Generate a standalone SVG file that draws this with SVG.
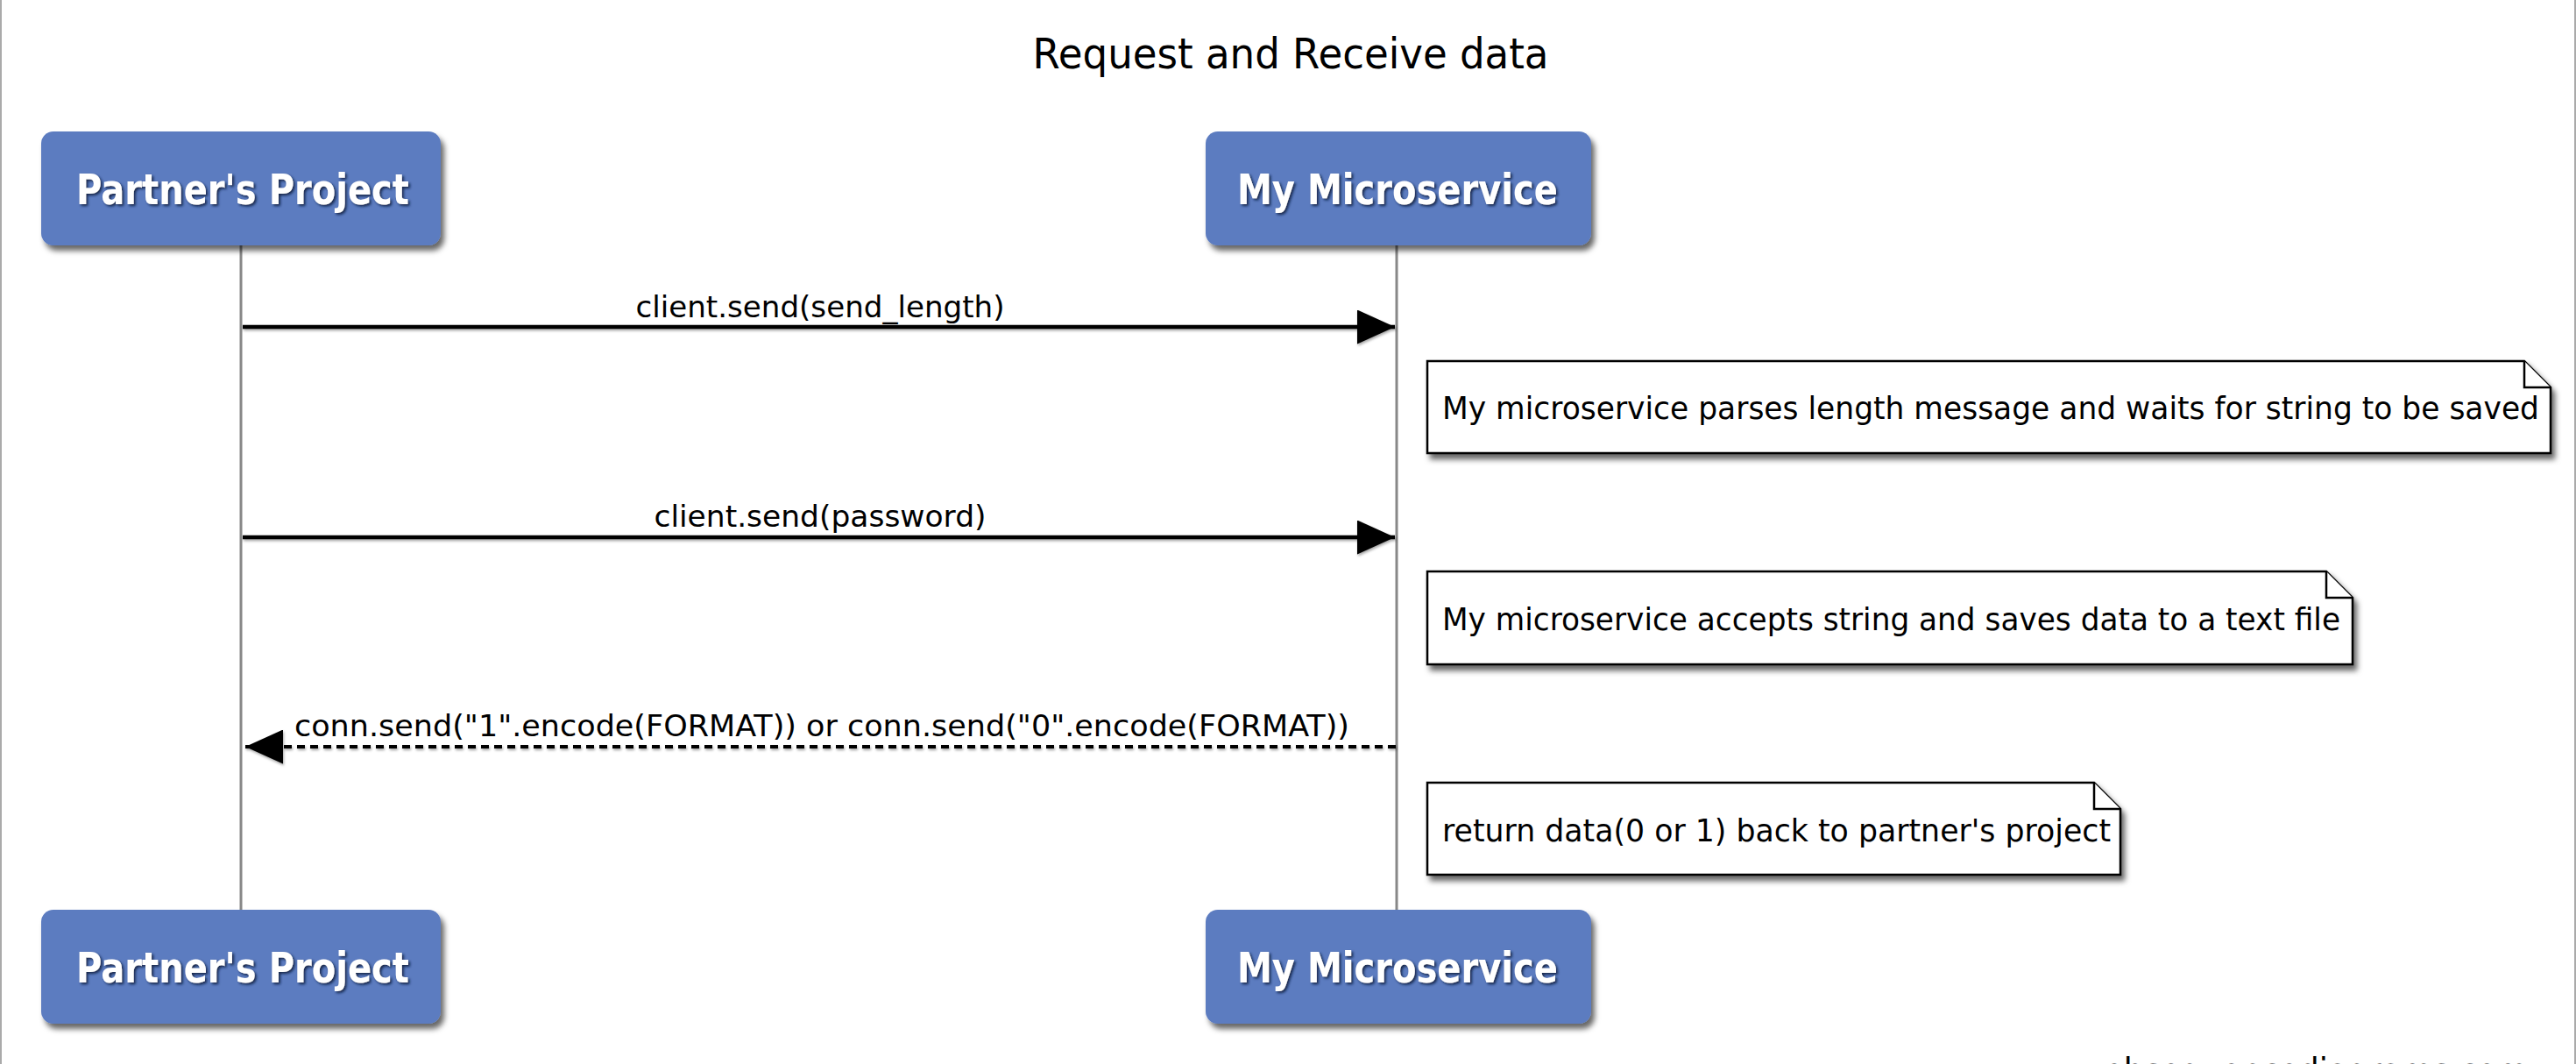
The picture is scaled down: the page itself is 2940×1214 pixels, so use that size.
<svg xmlns="http://www.w3.org/2000/svg" width="2940" height="1214" viewBox="0 0 2940 1214">
  <style>
    .title { font-family: "DejaVu Sans", Verdana, sans-serif; font-size: 48px; fill: #000; }
    .actor rect { fill: #5b7bc0; }
    .actor text { font-family: "DejaVu Sans", Verdana, sans-serif; font-size: 48px; font-weight: bold; fill: #fff; }
    .life { stroke: #888; stroke-width: 3; fill: none; }
    .msg { stroke: #000; stroke-width: 4.5; fill: none; }
    .ret { stroke: #000; stroke-width: 4; fill: none; stroke-dasharray: 9 6; }
    .lbl { font-family: "DejaVu Sans", Verdana, sans-serif; font-size: 33px; fill: #000; }
    .note path { fill: #fff; stroke: #000; stroke-width: 2.5; stroke-linejoin: miter; }
    .note text { font-family: "DejaVu Sans", Verdana, sans-serif; font-size: 35px; fill: #000; }
    .border { stroke: #aaa; stroke-width: 2; }
    .wm { font-family: "DejaVu Sans", Verdana, sans-serif; font-size: 40px; fill: #000; }
  </style>
  <defs>
    <filter id="shadow" x="-10%" y="-10%" width="125%" height="140%">
      <feDropShadow dx="4" dy="6" stdDeviation="3" flood-color="#000" flood-opacity="0.6"/>
    </filter>
    <filter id="tshadow" x="-10%" y="-20%" width="120%" height="150%">
      <feDropShadow dx="2" dy="2" stdDeviation="1.5" flood-color="#0a1a40" flood-opacity="0.9"/>
    </filter>
    <filter id="lshadow" filterUnits="userSpaceOnUse" x="0" y="0" width="2940" height="1214">
      <feDropShadow dx="1" dy="2" stdDeviation="1.5" flood-color="#000" flood-opacity="0.35"/>
    </filter>
    <marker id="head" markerUnits="userSpaceOnUse" markerWidth="43" markerHeight="39" refX="43" refY="19.5" orient="auto">
      <path d="M0,0 L43,19.5 L0,39 Z" fill="#000"/>
    </marker>
  </defs>

  <rect x="0" y="0" width="2940" height="1214" fill="#fff"/>
  <line class="border" x1="1" y1="0" x2="1" y2="1214"/>
  <line class="border" x1="2939" y1="0" x2="2939" y2="1214"/>

  <text class="title" x="1473" y="78" text-anchor="middle" textLength="589" lengthAdjust="spacingAndGlyphs">Request and Receive data</text>

  <g id="lifelines">
    <line class="life" x1="275" y1="280" x2="275" y2="1038"/>
    <line class="life" x1="1594" y1="280" x2="1594" y2="1038"/>
  </g>

  <g id="partner-top" class="actor">
    <rect x="47" y="150" width="456" height="130" rx="14" filter="url(#shadow)"/>
    <text x="277" y="233" text-anchor="middle" textLength="380" lengthAdjust="spacingAndGlyphs" filter="url(#tshadow)">Partner's Project</text>
  </g>
  <g id="micro-top" class="actor">
    <rect x="1376" y="150" width="440" height="130" rx="14" filter="url(#shadow)"/>
    <text x="1595" y="233" text-anchor="middle" textLength="366" lengthAdjust="spacingAndGlyphs" filter="url(#tshadow)">My Microservice</text>
  </g>
  <g id="partner-bottom" class="actor">
    <rect x="47" y="1038" width="456" height="130" rx="14" filter="url(#shadow)"/>
    <text x="277" y="1121" text-anchor="middle" textLength="380" lengthAdjust="spacingAndGlyphs" filter="url(#tshadow)">Partner's Project</text>
  </g>
  <g id="micro-bottom" class="actor">
    <rect x="1376" y="1038" width="440" height="130" rx="14" filter="url(#shadow)"/>
    <text x="1595" y="1121" text-anchor="middle" textLength="366" lengthAdjust="spacingAndGlyphs" filter="url(#tshadow)">My Microservice</text>
  </g>

  <g id="connectors">
    <g id="msg1">
      <line class="msg" x1="277" y1="373" x2="1592" y2="373" marker-end="url(#head)" filter="url(#lshadow)"/>
      <text class="lbl" x="936" y="362" text-anchor="middle" textLength="421" lengthAdjust="spacingAndGlyphs">client.send(send_length)</text>
    </g>
    <g id="msg2">
      <line class="msg" x1="277" y1="613" x2="1592" y2="613" marker-end="url(#head)" filter="url(#lshadow)"/>
      <text class="lbl" x="936" y="601" text-anchor="middle" textLength="379" lengthAdjust="spacingAndGlyphs">client.send(password)</text>
    </g>
    <g id="msg3">
      <line class="ret" x1="1593" y1="852" x2="280" y2="852" marker-end="url(#head)" filter="url(#lshadow)"/>
      <text class="lbl" x="938" y="840" text-anchor="middle" textLength="1204" lengthAdjust="spacingAndGlyphs">conn.send("1".encode(FORMAT)) or conn.send("0".encode(FORMAT))</text>
    </g>
  </g>

  <g id="note1" class="note">
    <path d="M1629,412 L2881,412 L2911,442 L2911,517 L1629,517 Z" filter="url(#shadow)"/>
    <path d="M2881,412 L2881,442 L2911,442"/>
    <text x="1646" y="478" textLength="1252" lengthAdjust="spacingAndGlyphs">My microservice parses length message and waits for string to be saved</text>
  </g>
  <g id="note2" class="note">
    <path d="M1629,652 L2655,652 L2685,682 L2685,758 L1629,758 Z" filter="url(#shadow)"/>
    <path d="M2655,652 L2655,682 L2685,682"/>
    <text x="1646" y="719" textLength="1025" lengthAdjust="spacingAndGlyphs">My microservice accepts string and saves data to a text file</text>
  </g>
  <g id="note3" class="note">
    <path d="M1629,893 L2390,893 L2420,923 L2420,998 L1629,998 Z" filter="url(#shadow)"/>
    <path d="M2390,893 L2390,923 L2420,923"/>
    <text x="1646" y="960" textLength="763" lengthAdjust="spacingAndGlyphs">return data(0 or 1) back to partner's project</text>
  </g>

  <text class="wm" x="2273" y="1236" textLength="612" lengthAdjust="spacingAndGlyphs">www.websequencediagrams.com</text>
</svg>
